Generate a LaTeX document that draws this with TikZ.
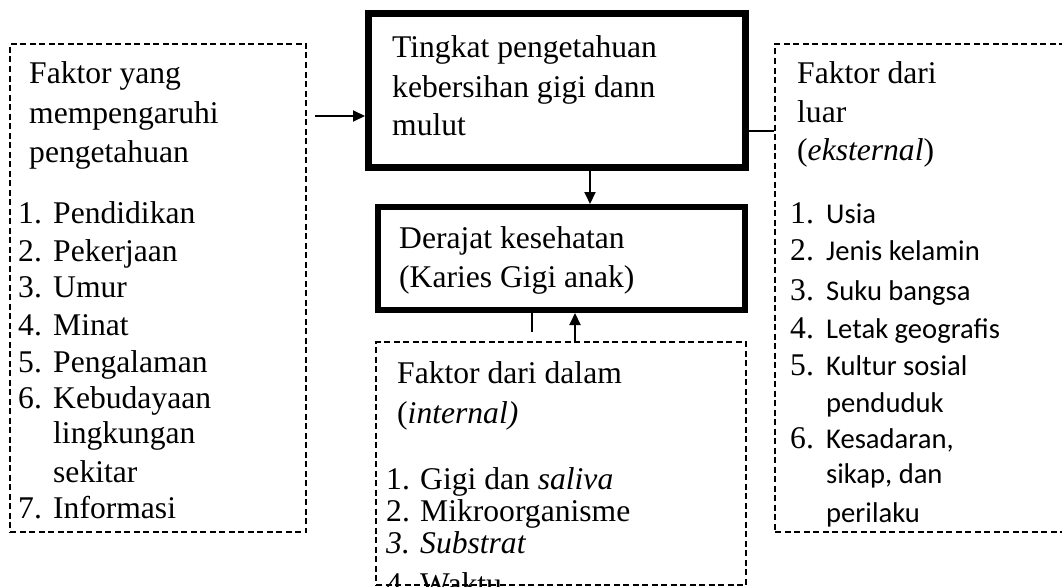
\documentclass[tikz,border=0pt]{standalone}
\usepackage{fontspec}
\setmainfont{Liberation Serif}
\newfontfamily\calfont{Carlito}
\usetikzlibrary{arrows.meta}
\tikzset{
 dbox/.style={draw, dash pattern=on 6pt off 3.5pt, line width=1.4pt, inner sep=0pt, rectangle},
 tbox/.style={draw, line width=7pt, inner sep=0pt, rectangle},
 tx/.style={anchor=base west, inner sep=0pt, font=\fontsize{31.6}{37}\selectfont},
 cx/.style={anchor=base west, inner sep=0pt, font=\calfont\fontsize{28.6}{34}\selectfont},
 arr/.style={line width=2pt, -{Triangle[length=12pt,width=11pt]}},
 ln/.style={line width=1.6pt}
}
\begin{document}
\begin{tikzpicture}[x=1pt,y=-1pt]
\clip (0,0) rectangle (1062,586);
\fill[white] (0,0) rectangle (1062,586);
% boxes
\node[dbox, minimum width=296pt, minimum height=488pt] (L) at (158,288) {};
\node[tbox, minimum width=377pt, minimum height=154pt] (T) at (557,90.5) {};
\node[tbox, line width=6pt, minimum width=367pt, minimum height=103pt] (M) at (561.5,258.5) {};
\node[dbox, minimum width=370pt, minimum height=243pt] (B) at (561,463.5) {};
\node[dbox, minimum width=300pt, minimum height=488pt] (R) at (925,288) {};
% connectors
\coordinate (a0) at (315,116);
\draw[arr] (a0) -- (a0 -| T.west);
\coordinate (d) at (590,0);
\draw[arr] (T.south -| d) -- (M.north -| d);
\coordinate (e) at (0,131);
\draw[ln] (T.east |- e) -- (R.west |- e);
\coordinate (s) at (532,332);
\draw[ln] (M.south -| s) -- (s);
\coordinate (u) at (575,0);
\draw[arr] (B.north -| u) -- (M.south -| u);
% left box text
\node[tx] (l1) at (29,83) {Faktor yang};
\node[tx] (l2) at (29,123) {mempengaruhi};
\node[tx] (l3) at (29,162) {pengetahuan};
\node[tx] (ln1) at (18,223) {1.};  \node[tx] (li1) at (53,223) {Pendidikan};
\node[tx] (ln2) at (18,261) {2.};  \node[tx] (li2) at (53,261) {Pekerjaan};
\node[tx] (ln3) at (18,297) {3.};  \node[tx] (li3) at (53,297) {Umur};
\node[tx] (ln4) at (18,335) {4.};  \node[tx] (li4) at (53,335) {Minat};
\node[tx] (ln5) at (18,372) {5.};  \node[tx] (li5) at (53,372) {Pengalaman};
\node[tx] (ln6) at (18,408) {6.};  \node[tx] (li6) at (53,408) {Kebudayaan};
\node[tx] (li6b) at (53,443) {lingkungan};
\node[tx] (li6c) at (53,482) {sekitar};
\node[tx] (ln7) at (18,518) {7.};  \node[tx] (li7) at (53,518) {Informasi};
% top box text
\node[tx] (t1) at (392,57) {Tingkat pengetahuan};
\node[tx] (t2) at (392,97) {kebersihan gigi dann};
\node[tx] (t3) at (392,135) {mulut};
% middle box text
\node[tx] (m1) at (399,248) {Derajat kesehatan};
\node[tx] (m2) at (399,287) {(Karies Gigi anak)};
% bottom box text
\node[tx] (b1) at (397,383) {Faktor dari dalam};
\node[tx] (b2) at (397,423) {(\textit{internal)}};
\node[tx] (bn1) at (386,489) {1.};  \node[tx] (bi1) at (420,489) {Gigi dan \textit{saliva}};
\node[tx] (bn2) at (386,521) {2.};  \node[tx] (bi2) at (420,521) {Mikroorganisme};
\node[tx] (bn3) at (386,553) {\textit{3.}};  \node[tx] (bi3) at (420,553) {\textit{Substrat}};
\node[tx] (bn4) at (386,594) {4.};  \node[tx] (bi4) at (420,594) {Waktu};
% right box text
\node[tx] (r1) at (797,83) {Faktor dari};
\node[tx] (r2) at (797,122) {luar};
\node[tx] (r3) at (797,160) {(\textit{eksternal})};
\node[tx] (rn1) at (790,223) {1.};  \node[cx] (ri1) at (826,223) {Usia};
\node[tx] (rn2) at (790,260) {2.};  \node[cx] (ri2) at (826,260) {Jenis kelamin};
\node[tx] (rn3) at (790,300) {3.};  \node[cx] (ri3) at (826,300) {Suku bangsa};
\node[tx] (rn4) at (790,338) {4.};  \node[cx] (ri4) at (826,338) {Letak geografis};
\node[tx] (rn5) at (790,375) {5.};  \node[cx] (ri5) at (826,375) {Kultur sosial};
\node[cx] (ri5b) at (826,412) {penduduk};
\node[tx] (rn6) at (790,448) {6.};  \node[cx] (ri6) at (826,448) {Kesadaran,};
\node[cx] (ri6b) at (826,483) {sikap, dan};
\node[cx] (ri6c) at (826,522) {perilaku};
\end{tikzpicture}
\end{document}
